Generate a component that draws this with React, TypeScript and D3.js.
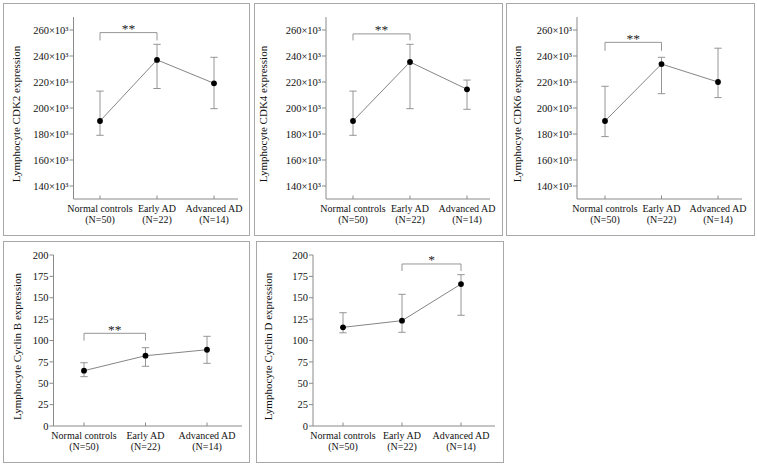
import * as d3 from 'd3';

const categories = ['Normal controls', 'Early AD', 'Advanced AD'];
const groupSizes = ['(N=50)', '(N=22)', '(N=14)'];

// CDK values are in units of 10^3
const cdkTicks = [140, 160, 180, 200, 220, 240, 260];
const cdkTickLabels = cdkTicks.map(t => `${t}×10³`);
const cyclinTicks = [0, 25, 50, 75, 100, 125, 150, 175, 200];
const cyclinTickLabels = cyclinTicks.map(t => `${t}`);

const cdk2Mean = [190, 237, 219];
const cdk2Upper = [213, 249, 239];
const cdk2Lower = [179, 215, 199.5];

const cdk4Mean = [190, 235.4, 214.4];
const cdk4Upper = [213, 249, 221.5];
const cdk4Lower = [179, 199.5, 199];

const cdk6Mean = [190, 233.8, 220];
const cdk6Upper = [216.7, 239, 246];
const cdk6Lower = [178, 211, 208];

const cycBMean = [64.7, 82.2, 89.2];
const cycBUpper = [74, 91.6, 104.9];
const cycBLower = [57.7, 69.8, 73.3];

const cycDMean = [115.4, 123.2, 166];
const cycDUpper = [132.5, 154, 177];
const cycDLower = [109, 109.6, 129.5];

const FONT = '"Liberation Serif", "DejaVu Serif", serif';
const TEXT = '#111';
const GREY = '#8a8a8a';

type Panel = {
	title: string;
	mean: number[]; upper: number[]; lower: number[];
	ticks: number[]; tickLabels: string[];
	domain: [number, number];
	sig: { from: number; to: number; level: number; drop: number; mark: string };
	frame: [number, number, number, number];
	axisX: number; top: number; bottom: number;
	catRange: [number, number]; xEnd: number; labelX: number;
};

const panels: Panel[] = [
	{
		title: 'Lymphocyte CDK2 expression', mean: cdk2Mean, upper: cdk2Upper, lower: cdk2Lower,
		ticks: cdkTicks, tickLabels: cdkTickLabels, domain: [130, 270],
		sig: { from: 0, to: 1, level: 258, drop: 6, mark: '**' },
		frame: [3, 3, 249, 235], axisX: 73.5, top: 17, bottom: 199,
		catRange: [100, 214], xEnd: 238, labelX: 19.5,
	},
	{
		title: 'Lymphocyte CDK4 expression', mean: cdk4Mean, upper: cdk4Upper, lower: cdk4Lower,
		ticks: cdkTicks, tickLabels: cdkTickLabels, domain: [130, 270],
		sig: { from: 0, to: 1, level: 257, drop: 5, mark: '**' },
		frame: [254, 3, 502, 235], axisX: 326, top: 17, bottom: 199,
		catRange: [353, 467], xEnd: 490, labelX: 266.5,
	},
	{
		title: 'Lymphocyte CDK6 expression', mean: cdk6Mean, upper: cdk6Upper, lower: cdk6Lower,
		ticks: cdkTicks, tickLabels: cdkTickLabels, domain: [130, 270],
		sig: { from: 0, to: 1, level: 250.5, drop: 6.5, mark: '**' },
		frame: [506, 3, 754, 235], axisX: 577, top: 17, bottom: 199,
		catRange: [605, 718], xEnd: 742, labelX: 521,
	},
	{
		title: 'Lymphocyte Cyclin B expression', mean: cycBMean, upper: cycBUpper, lower: cycBLower,
		ticks: cyclinTicks, tickLabels: cyclinTickLabels, domain: [0, 200],
		sig: { from: 0, to: 1, level: 108.4, drop: 8.5, mark: '**' },
		frame: [3, 241, 249, 462], axisX: 53.5, top: 255, bottom: 426,
		catRange: [84, 207], xEnd: 242, labelX: 20.5,
	},
	{
		title: 'Lymphocyte Cyclin D expression', mean: cycDMean, upper: cycDUpper, lower: cycDLower,
		ticks: cyclinTicks, tickLabels: cyclinTickLabels, domain: [0, 200],
		sig: { from: 1, to: 2, level: 189.5, drop: 8.2, mark: '*' },
		frame: [256, 241, 503, 462], axisX: 313, top: 255, bottom: 426,
		catRange: [343, 461], xEnd: 495, labelX: 271.5,
	},
];

function ChartPanel({ p }: { p: Panel }) {
	const y = d3.scaleLinear().domain(p.domain).range([p.bottom, p.top]);
	const x = d3.scalePoint<string>().domain(categories).range(p.catRange);
	const line = d3.line<number>()
		.x((_, i) => x(categories[i])!)
		.y(d => y(d));
	const [fx0, fy0, fx1, fy1] = p.frame;
	const sx0 = x(categories[p.sig.from])!;
	const sx1 = x(categories[p.sig.to])!;
	const sy = y(p.sig.level);
	const sy2 = y(p.sig.level - p.sig.drop);

	return (
		<g fontFamily={FONT} fill={TEXT}>
			<rect x={fx0 + 0.5} y={fy0 + 0.5} width={fx1 - fx0} height={fy1 - fy0} fill='#fff' stroke='#a8a8a8' />
			{/* y axis */}
			<line x1={p.axisX} x2={p.axisX} y1={p.top} y2={p.bottom} stroke={GREY} />
			{p.ticks.map((t, i) => (
				<g key={t}>
					<line x1={p.axisX - 4} x2={p.axisX} y1={y(t)} y2={y(t)} stroke={GREY} />
					<text x={p.axisX - 5} y={y(t)} dy='0.35em' textAnchor='end' fontSize={10.5} fill={TEXT}>
						{p.tickLabels[i]}
					</text>
				</g>
			))}
			{/* x axis */}
			<line x1={p.axisX} x2={p.xEnd} y1={p.bottom} y2={p.bottom} stroke={GREY} />
			{categories.map((c, i) => (
				<g key={c}>
					<line x1={x(c)} x2={x(c)} y1={p.bottom} y2={p.bottom - 3.5} stroke={GREY} />
					<text x={x(c)} y={p.bottom + 12.5} textAnchor='middle' fontSize={10} fill={TEXT}>{c}</text>
					<text x={x(c)} y={p.bottom + 23.5} textAnchor='middle' fontSize={10} fill={TEXT}>{groupSizes[i]}</text>
				</g>
			))}
			<text
				transform={`translate(${p.labelX},${(p.top + p.bottom) / 2 + 6}) rotate(-90)`}
				textAnchor='middle' fontSize={11} fill={TEXT}
			>
				{p.title}
			</text>
			{/* error bars */}
			{categories.map((c, i) => (
				<g key={c} stroke={GREY} strokeWidth={0.9}>
					<line x1={x(c)} x2={x(c)} y1={y(p.upper[i])} y2={y(p.lower[i])} />
					<line x1={x(c)! - 3.7} x2={x(c)! + 3.7} y1={y(p.upper[i])} y2={y(p.upper[i])} />
					<line x1={x(c)! - 3.7} x2={x(c)! + 3.7} y1={y(p.lower[i])} y2={y(p.lower[i])} />
				</g>
			))}
			<path d={line(p.mean)!} fill='none' stroke='#777' strokeWidth={0.9} />
			{categories.map((c, i) => (
				<circle key={c} cx={x(c)} cy={y(p.mean[i])} r={2.9} fill='#000' />
			))}
			{/* significance bracket */}
			<path d={`M${sx0},${sy2}V${sy}H${sx1}V${sy2}`} fill='none' stroke={GREY} strokeWidth={0.9} />
			<text x={(sx0 + sx1) / 2} y={sy + 0.5} textAnchor='middle' fontSize={13.5} fill='#222'>{p.sig.mark}</text>
		</g>
	);
}

export default function App() {
	return (
		<svg
			width={757}
			height={466}
			style={{ position: 'absolute', left: 0, top: 0, background: '#fff' }}
		>
			{panels.map(p => <ChartPanel key={p.title} p={p} />)}
		</svg>
	);
}
